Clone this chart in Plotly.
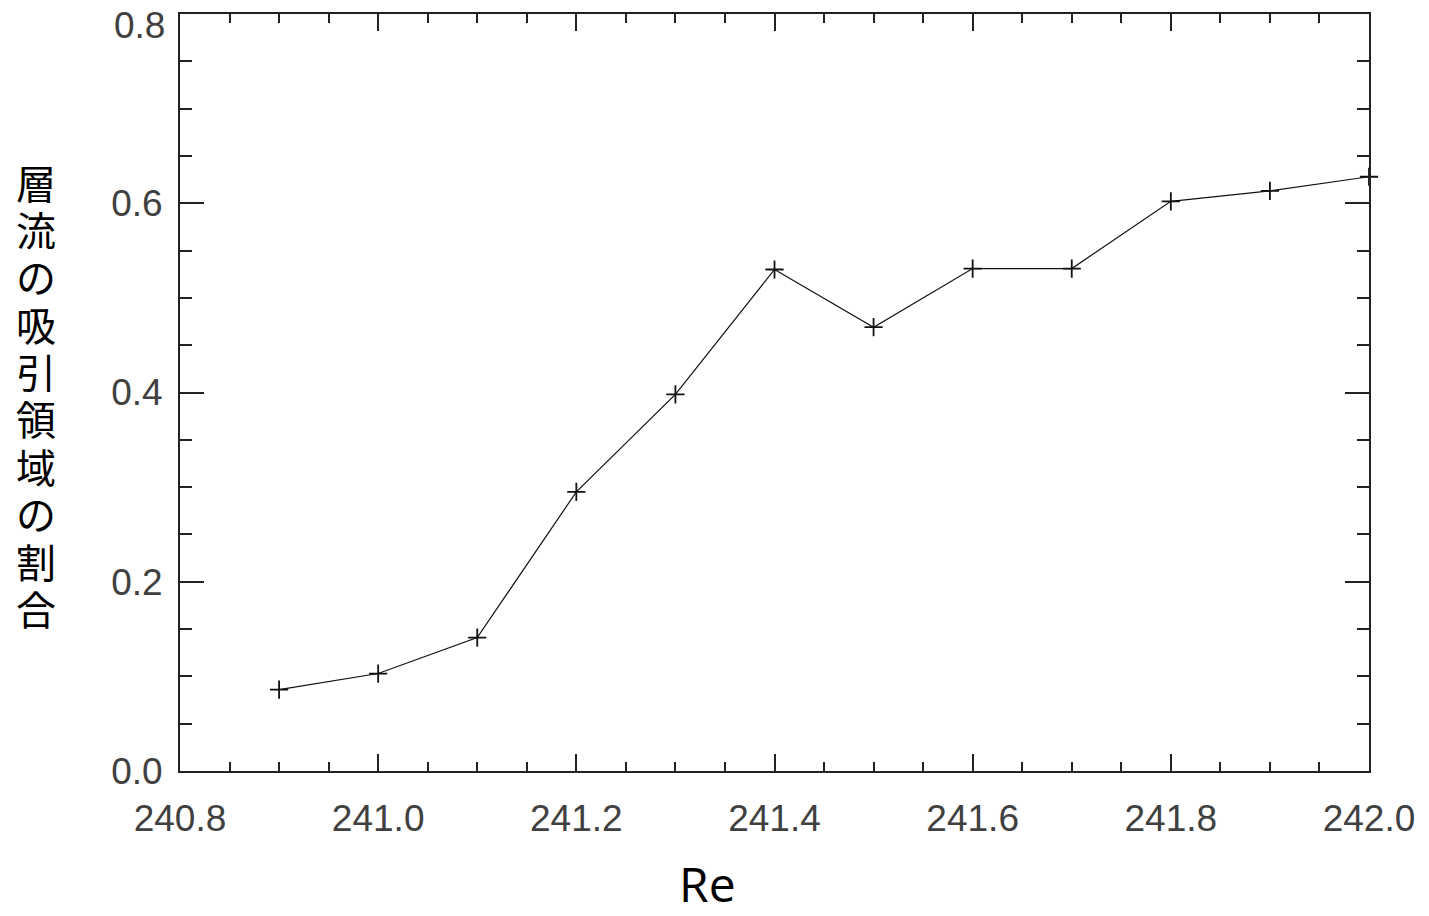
import plotly.graph_objects as go

re_values = [240.9, 241.0, 241.1, 241.2, 241.3, 241.4, 241.5, 241.6, 241.7, 241.8, 241.9, 242.0]
ratio = [0.086, 0.103, 0.141, 0.295, 0.398, 0.530, 0.469, 0.531, 0.531, 0.602, 0.613, 0.628]

x_ticks = [240.8, 241.0, 241.2, 241.4, 241.6, 241.8, 242.0]
x_tick_text = ["240.8", "241.0", "241.2", "241.4", "241.6", "241.8", "242.0"]
y_ticks = [0.0, 0.2, 0.4, 0.6, 0.8]
y_tick_text = ["0.0", "0.2", "0.4", "0.6", ""]
y_top_label = "0.8"

y_title_chars = list("層流の吸引領域の割合")
x_title = "Re"

# page has an 8px body margin; work in figure coordinates
OFF = 8
W, H = 1429 - 2 * OFF, 916 - 2 * OFF
L, R, T, B = 180 - OFF, 1369 - OFF, 12 - OFF, 771 - OFF

fig = go.Figure()
fig.add_trace(go.Scatter(
    x=re_values, y=ratio, mode="lines+markers",
    line=dict(color="#111111", width=1.2),
    marker=dict(symbol="cross-thin", size=13, line=dict(color="#111111", width=1.8)),
    showlegend=False, cliponaxis=False,
))

tickfont = dict(family="Liberation Sans", size=37, color="#404040")

fig.update_xaxes(
    range=[240.8, 242.0], tickmode="array", tickvals=x_ticks, ticktext=x_tick_text,
    ticks="inside", ticklen=17, tickwidth=2, tickcolor="#222",
    minor=dict(dtick=0.05, ticks="inside", ticklen=9, tickwidth=2, tickcolor="#222", showgrid=False),
    showline=True, linecolor="#222", linewidth=2, mirror="ticks",
    showgrid=False, zeroline=False, tickfont=tickfont, ticklabelstandoff=14,
)
fig.update_yaxes(
    range=[0.0, 0.80001], tickmode="array", tickvals=y_ticks, ticktext=y_tick_text,
    ticks="inside", ticklen=24, tickwidth=2, tickcolor="#222",
    minor=dict(dtick=0.05, ticks="inside", ticklen=12, tickwidth=2, tickcolor="#222", showgrid=False),
    showline=True, linecolor="#222", linewidth=2, mirror="ticks",
    showgrid=False, zeroline=False, tickfont=tickfont, ticklabelstandoff=8,
)

annotations = []
top_c, spacing = 180, 47.5
for i, ch in enumerate(y_title_chars):
    py = top_c + i * spacing - OFF
    annotations.append(dict(
        text=ch, xref="paper", yref="paper",
        x=(36 - OFF - L) / (R - L), y=(B - py) / (B - T),
        xanchor="center", yanchor="middle", showarrow=False,
        font=dict(family="Noto Sans CJK JP", size=40, color="#000"),
    ))
annotations.append(dict(
    text=y_top_label, xref="paper", yref="y",
    x=0, y=y_ticks[-1], xanchor="right", yanchor="middle",
    xshift=-13, yshift=-11, showarrow=False, font=tickfont,
))
annotations.append(dict(
    text=x_title, xref="paper", yref="paper",
    x=(707 - OFF - L) / (R - L), y=(B - (884 - OFF)) / (B - T),
    xanchor="center", yanchor="middle", showarrow=False,
    font=dict(family="Open Sans", size=48, color="#000"),
))

fig.update_layout(
    width=W, height=H,
    margin=dict(l=L, r=W - R, t=T, b=H - B),
    paper_bgcolor="white", plot_bgcolor="white",
    annotations=annotations,
)

fig.write_html("out.html")
